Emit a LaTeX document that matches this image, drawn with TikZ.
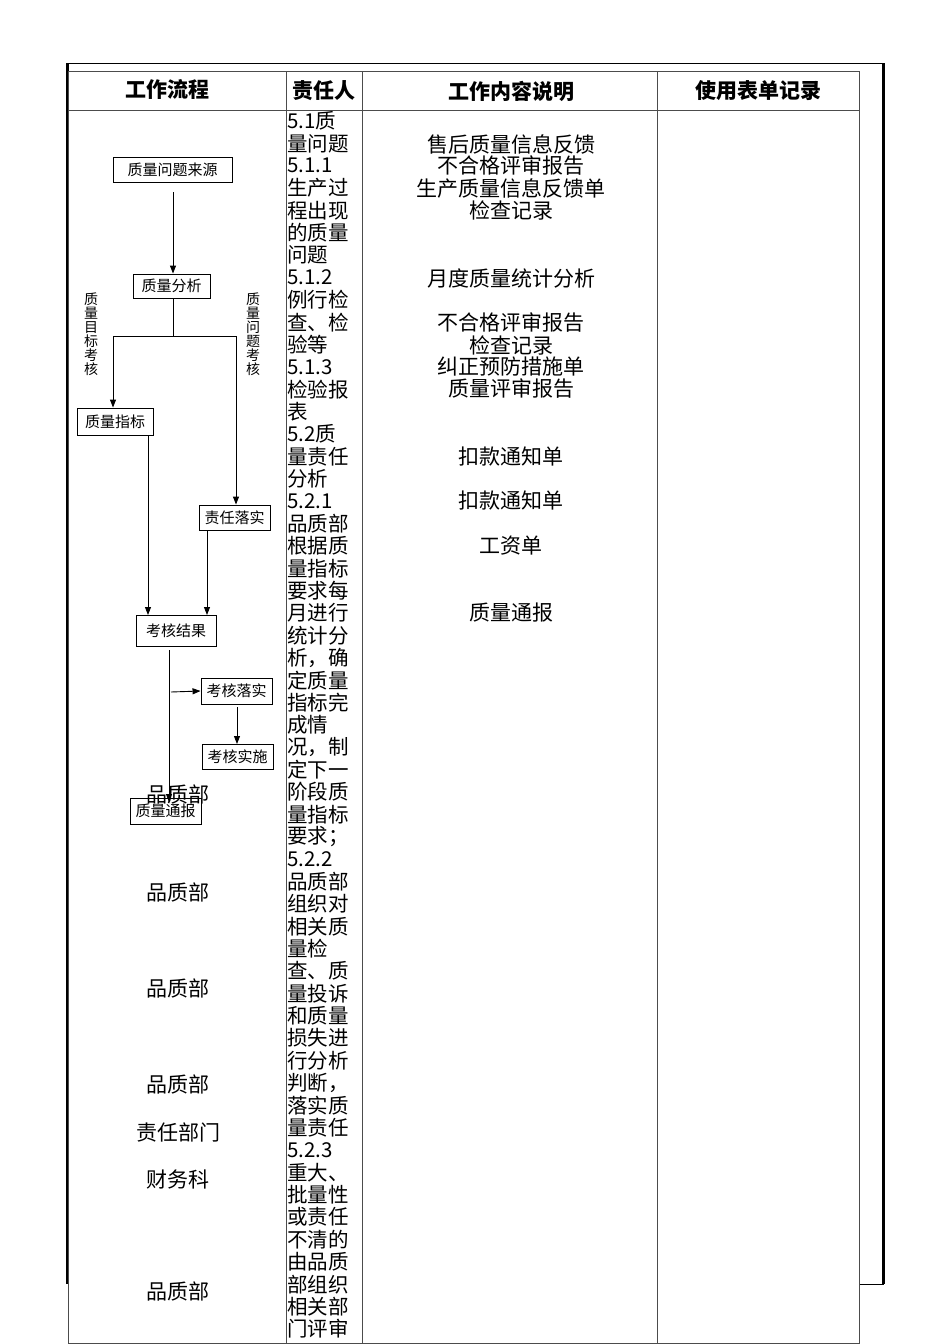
\documentclass[tikz,border=0pt]{standalone}
\usepackage{fontspec}
\setmainfont{Noto Sans CJK SC}
\usetikzlibrary{arrows.meta}
\begin{document}
\begin{tikzpicture}[x=1pt,y=-1pt,
  fbox/.style={draw,line width=0.9pt,inner sep=0pt,font=\fontsize{15}{15}\selectfont},
  arr/.style={line width=0.9pt,-{Triangle[length=8pt,width=6pt]}},
  ln/.style={line width=0.9pt},
  grid/.style={draw=black!70,line width=0.8pt},
  hdr/.style={font=\fontsize{21}{21}\selectfont\bfseries},
  txt/.style={font=\fontsize{20.5}{20.5}\selectfont,inner sep=0pt},
  ctxt/.style={font=\fontsize{21}{21}\selectfont,inner sep=0pt},
  vlab/.style={font=\fontsize{14}{14}\selectfont,inner sep=0pt}]
\useasboundingbox (0,0) rectangle (950,1344);
\fill[white] (0,0) rectangle (950,1344);
% outer frame
\draw[line width=0.8pt] (66,63) -- (884,63);
\draw[line width=3pt] (67,63) -- (67,1284);
\draw[line width=3pt] (883,63) -- (883,1284);
\draw[line width=0.8pt] (859,1284) -- (884,1284);
% table grid
\draw[grid] (68,71) rectangle (859,1343);
\draw[grid] (68,110) -- (859,110);
\foreach \x in {286,362,657} \draw[grid] (\x,71) -- (\x,1343);
% headers
\node[hdr] (h1) at (167,89) {工作流程};
\node[hdr] (h2) at (324,91) {责任人};
\node[hdr] (h3) at (511,91) {工作内容说明};
\node[hdr] (h4) at (758,91) {使用表单记录};
% column 2 text
\foreach \t [count=\i] in {5.1质,量问题,5.1.1,生产过,程出现,的质量,问题,5.1.2,例行检,查、检,验等,5.1.3,检验报,表,5.2质,量责任,分析,5.2.1,品质部,根据质,量指标,要求每,月进行,统计分,析，确,定质量,指标完,成情,况，制,定下一,阶段质,量指标,要求；,5.2.2,品质部,组织对,相关质,量检,查、质,量投诉,和质量,损失进,行分析,判断，,落实质,量责任,5.2.3,重大、,批量性,或责任,不清的,由品质,部组织,相关部,门评审}
  \node[txt,anchor=west] (c2l\i) at (287,{121+22.37*(\i-1)}) {\t};
% column 3 text
\foreach \t/\y [count=\i] in {售后质量信息反馈/144,不合格评审报告/166,生产质量信息反馈单/188,检查记录/210,月度质量统计分析/278,不合格评审报告/323,检查记录/345,纠正预防措施单/367,质量评审报告/389,扣款通知单/457,扣款通知单/501,工资单/546,质量通报/613}
  \node[ctxt] (c3l\i) at (511,\y) {\t};
% column 1 labels
\foreach \t/\y [count=\i] in {品质部/794,品质部/892,品质部/988,品质部/1084,责任部门/1132,财务科/1179,品质部/1291}
  \node[ctxt] (c1l\i) at (178,\y) {\t};
% flow boxes
\node[fbox,minimum width=119pt,minimum height=25pt] (src) at (172.5,169.5) {质量问题来源};
\node[fbox,minimum width=77pt,minimum height=24pt] (ana) at (171.5,286) {质量分析};
\node[fbox,minimum width=76pt,minimum height=27pt] (idx) at (115,421.5) {质量指标};
\node[fbox,minimum width=71pt,minimum height=25pt] (resp) at (234.5,517.5) {责任落实};
\node[fbox,minimum width=80pt,minimum height=31pt] (res) at (176,630.5) {考核结果};
\node[fbox,minimum width=71pt,minimum height=26pt] (impl) at (236.5,691) {考核落实};
\node[fbox,minimum width=71pt,minimum height=25pt] (exec) at (237.5,756.5) {考核实施};
\node[fbox,minimum width=71pt,minimum height=26pt] (rep) at (165.5,811) {质量通报};
% vertical labels
\node[vlab,align=center] (vl) at (91,334) {质\\量\\目\\标\\考\\核};
\node[vlab,align=center] (vr) at (253,334) {质\\量\\问\\题\\考\\核};
% connectors
\coordinate (j) at (173,336);
\coordinate (jl) at (113,336);
\coordinate (jr) at (236,336);
\coordinate (b) at (171,692);
\draw[arr] (173,192) -- (173,298 |- ana.north);
\draw[ln] (j |- ana.south) -- (j);
\draw[ln] (jl) -- (jr);
\draw[arr] (jl) -- (jl |- idx.north);
\draw[arr] (jr) -- (jr |- resp.north);
\draw[arr] (148,435) -- (148,615);
\draw[arr] (207,530) -- (207,615);
\draw[arr] (169,650) -- (169,802);
\draw[arr] (b) -- (impl.west);
\draw[arr] (237,707) -- (237,744);
\end{tikzpicture}
\end{document}
